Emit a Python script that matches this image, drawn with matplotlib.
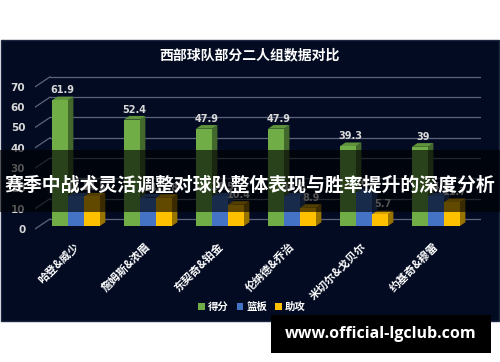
"""
West teams duo comparison - 3D style clustered bars on dark panel
"""

import matplotlib.pyplot as plt
from matplotlib.patches import Rectangle, Polygon, Patch
from matplotlib.colors import to_rgb

plt.rcParams['font.family'] = ['Noto Sans CJK SC', 'DejaVu Sans']

# data
duos = ['哈登&威少', '詹姆斯&浓眉', '东契奇&铂金', '伦纳德&乔治', '米切尔&戈贝尔', '约基奇&穆雷']
points = [61.9, 52.4, 47.9, 47.9, 39.3, 39]
rebounds = [14.5, 14.0, 14.5, 14.5, 16.5, 14.5]
assists = [14.5, 13.8, 10.4, 8.9, 5.7, 11.7]
series_names = ['得分', '篮板', '助攻']
series_colors = ['#70ad47', '#4472c4', '#ffc000']
yticks = [0, 10, 20, 30, 40, 50, 60, 70]

W, H = 500, 362
fig = plt.figure(figsize=(W / 100, H / 100), dpi=100, facecolor='white')

# dark panel
fig.patches.append(Rectangle((1 / W, 1 - 321 / H), 498 / W, 281 / H, transform=fig.transFigure,
                             facecolor='#020b22', edgecolor='#1c2842', lw=1, zorder=-1))

ax = fig.add_axes([35 / W, 1 - 231 / H, 446 / W, (231 - 74.7) / H])
ax.set_xlim(-0.569, 5.625)
ax.set_ylim(-1, 76)
ax.patch.set_alpha(0)
for s in ax.spines.values():
    s.set_visible(False)

# depth of the back wall and of the bars (data units)
gdx, gdy = 0.208, 4.93
bdx, bdy = 0.075, 1.8
base = 1.5
bw = 0.222

# gridlines running from front plane to back wall
for t in yticks:
    ax.plot([-0.569, -0.569 + gdx], [t, t + gdy], color='#5b6478', lw=0.9, zorder=1)
    ax.plot([-0.569 + gdx, 5.625], [t + gdy, t + gdy], color='#5b6478', lw=0.9, zorder=1)

ax.set_yticks(yticks)
ax.set_yticklabels([str(t) for t in yticks], fontsize=7.5, fontweight='bold', color='#d9d9d9',
                   family='DejaVu Sans')
ax.tick_params(axis='y', length=0, pad=7)
ax.set_xticks([])


def shade(c, f):
    r, g, b = to_rgb(c)
    return (r * f, g * f, b * f)


z = 2
for i in range(len(duos)):
    for k, vals in enumerate([points, rebounds, assists]):
        v = vals[i]
        c = series_colors[k]
        x0 = i + (k - 1) * bw - bw / 2
        x1 = x0 + bw
        top = base + v
        side = Polygon([(x1, base), (x1 + bdx, base + bdy), (x1 + bdx, top + bdy), (x1, top)],
                       closed=True, facecolor=shade(c, 0.6), edgecolor='none', zorder=z)
        lid = Polygon([(x0, top), (x1, top), (x1 + bdx, top + bdy), (x0 + bdx, top + bdy)],
                      closed=True, facecolor=shade(c, 0.85), edgecolor='none', zorder=z)
        ax.add_patch(side)
        ax.add_patch(lid)
        ax.bar(x0, v, width=bw, bottom=base, align='edge', color=c, zorder=z + 0.5)
        ax.text(x0 + bw / 2 + bdx / 2, top + bdy + 0.6, f'{v:g}', ha='center', va='bottom',
                fontsize=7, fontweight='bold', color='#d9d9d9', family='DejaVu Sans', zorder=z + 1)
        z += 2

for i, name in enumerate(duos):
    ax.text(i - 0.05, -5.5, name, rotation=45, ha='right', va='top', rotation_mode='anchor',
            fontsize=8, fontweight='bold', color='white', clip_on=False)

fig.text(250 / W, 1 - 55 / H, '西部球队部分二人组数据对比', ha='center', va='center',
         fontsize=10, fontweight='bold', color='white')

handles = [Patch(facecolor=c, edgecolor='none') for c in series_colors]
fig.legend(handles, series_names, loc='center', bbox_to_anchor=(252 / W, 1 - 307 / H), ncol=3,
           frameon=False, handlelength=0.6, handleheight=0.6, columnspacing=0.8,
           handletextpad=0.3, labelcolor='white', prop={'weight': 'bold', 'size': 7.5})

# overlay banner
fig.patches.append(Rectangle((0, 1 - 212 / H), 1, 62 / H, transform=fig.transFigure,
                             facecolor='black', alpha=0.62, edgecolor='none', zorder=10))
fig.text(250 / W, 1 - 185 / H, '赛季中战术灵活调整对球队整体表现与胜率提升的深度分析', ha='center',
         va='center', fontsize=13.6, fontweight='bold', color='white', zorder=11)

# watermark
fig.patches.append(Rectangle((271 / W, 1 - 353 / H), 220 / W, 38 / H, transform=fig.transFigure,
                             facecolor='black', edgecolor='none', zorder=10))
fig.text(381 / W, 1 - 334 / H, 'www.official-lgclub.com', ha='center', va='center',
         fontsize=11.5, fontweight='bold', color='white', family='Open Sans', zorder=11)

fig.savefig('out.png', dpi=100, facecolor='white')
